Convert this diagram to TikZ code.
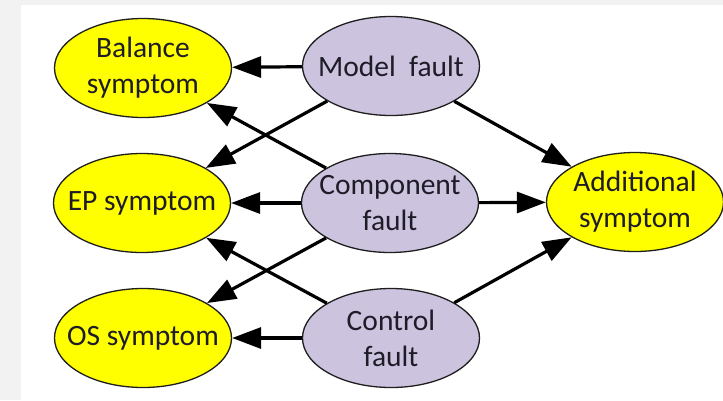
\documentclass[tikz,border=0pt]{standalone}
\usepackage{fontspec}
\setmainfont{Carlito}
\usetikzlibrary{shapes.geometric,arrows.meta}
\definecolor{bgc}{RGB}{242,242,242}
\definecolor{symfill}{RGB}{255,255,0}
\definecolor{faultfill}{RGB}{204,196,222}
\definecolor{edgec}{RGB}{30,30,30}
\definecolor{txtc}{RGB}{30,28,40}
\tikzset{
  bubble/.style={ellipse, draw=edgec, line width=1.3pt, inner sep=0pt,
    minimum width=177pt, minimum height=99pt},
  lbl/.style={align=center, text=txtc, inner sep=0pt,
    font=\fontsize{29.5}{36}\selectfont},
  symptom/.style={bubble, fill=symfill},
  fault/.style={bubble, fill=faultfill},
  link/.style={line width=3.2pt, draw=black, -{Triangle[length=29pt,width=21pt]}}
}
\begin{document}
\begin{tikzpicture}[x=1pt,y=-1pt]
\useasboundingbox (0,0) rectangle (723,400);
\fill[bgc] (0,0) rectangle (723,400);
\fill[white] (21,5) rectangle (723,400);

\node[symptom, label={[lbl]center:Balance\\symptom}] (bal) at (143,68) {};
\node[symptom, label={[lbl]center:EP symptom}] (ep) at (142,203) {};
\node[symptom, label={[lbl]center:OS symptom}] (os) at (143,338) {};
\node[fault, label={[lbl]center:Model~~fault}] (model) at (391,66) {};
\node[fault, label={[lbl]center:Component\\fault}] (comp) at (390,203) {};
\node[fault, label={[lbl]center:Control\\fault}] (ctrl) at (391,338) {};
\node[symptom, label={[lbl]center:Additional\\symptom}] (add) at (635,202) {};

\draw[link] (model) -- (bal);
\draw[link] (model) -- (ep);
\draw[link] (model) -- (add);
\draw[link] (comp) -- (bal);
\draw[link] (comp) -- (ep);
\draw[link] (comp) -- (os);
\draw[link] (comp) -- (add);
\draw[link] (ctrl) -- (ep);
\draw[link] (ctrl) -- (os);
\draw[link] (ctrl) -- (add);
\end{tikzpicture}
\end{document}
